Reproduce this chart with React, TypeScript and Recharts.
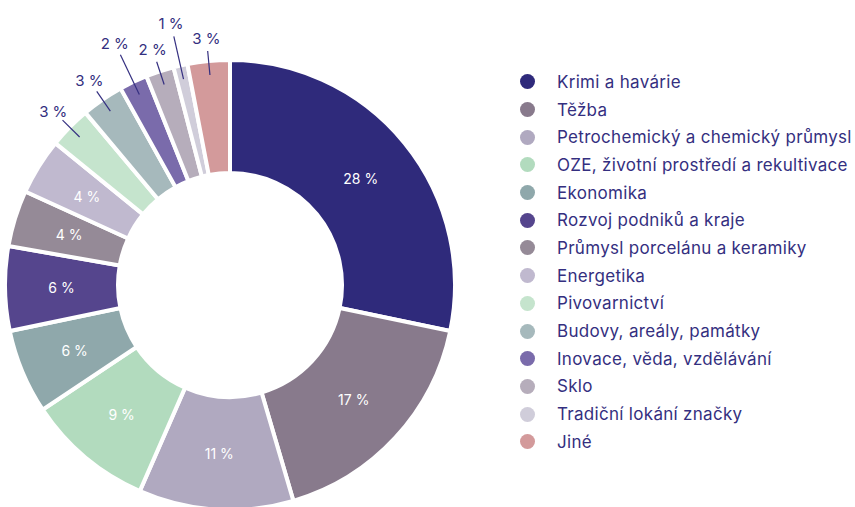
import { PieChart, Pie, Cell, Legend } from "recharts";

const categories = [
  "Krimi a havárie",
  "Těžba",
  "Petrochemický a chemický průmysl",
  "OZE, životní prostředí a rekultivace",
  "Ekonomika",
  "Rozvoj podniků a kraje",
  "Průmysl porcelánu a keramiky",
  "Energetika",
  "Pivovarnictví",
  "Budovy, areály, památky",
  "Inovace, věda, vzdělávání",
  "Sklo",
  "Tradiční lokání značky",
  "Jiné",
];

const shares = [28, 17, 11, 9, 6, 6, 4, 4, 3, 3, 2, 2, 1, 3];

const colors = [
  "#2f2a7b",
  "#887a8c",
  "#b0a9c0",
  "#b2dbbe",
  "#8fa8ab",
  "#55458d",
  "#958a97",
  "#c0b9cf",
  "#c5e4cd",
  "#a6b9bc",
  "#7a6bab",
  "#b6adbb",
  "#d0cdda",
  "#d39a9b",
];

const data = categories.map((name, i) => ({ name, value: shares[i] }));

const TEXT = "#342f80";
const FONT = "Inter, 'Noto Sans', sans-serif";
const RAD = Math.PI / 180;

// the two thinnest wedges between neighbours get a longer leader
const longLeader: Record<number, boolean> = { 10: true, 12: true };

const renderLabel = (props: any) => {
  const { cx, cy, midAngle, innerRadius, outerRadius, value, index } = props;
  const cos = Math.cos(-midAngle * RAD);
  const sin = Math.sin(-midAngle * RAD);
  if (value >= 4) {
    const r = (innerRadius + outerRadius) / 2;
    return (
      <text
        x={cx + r * cos}
        y={cy + r * sin}
        fill="#fff"
        fontSize={14}
        fontFamily={FONT}
        textAnchor="middle"
        dominantBaseline="central"
      >
        {`${value} %`}
      </text>
    );
  }
  const extra = longLeader[index] ? 20 : 0;
  const r1 = outerRadius - 14;
  const r2 = outerRadius + 10 + extra;
  const rt = outerRadius + 23 + extra;
  return (
    <g>
      <line
        x1={cx + r1 * cos}
        y1={cy + r1 * sin}
        x2={cx + r2 * cos}
        y2={cy + r2 * sin}
        stroke={TEXT}
        strokeWidth={1.2}
      />
      <text
        x={cx + rt * cos}
        y={cy + rt * sin}
        fill={TEXT}
        fontSize={15}
        fontFamily={FONT}
        textAnchor="middle"
        dominantBaseline="central"
      >
        {`${value} %`}
      </text>
    </g>
  );
};

// legend keeps the order of the data, not alphabetical
const renderLegend = () => (
  <div style={{ fontFamily: FONT }}>
    {categories.map((name, i) => (
      <div
        key={name}
        style={{ display: "flex", alignItems: "center", height: 27.7 }}
      >
        <span
          style={{
            width: 15,
            height: 15,
            borderRadius: "50%",
            background: colors[i],
            marginRight: 22,
            flexShrink: 0,
          }}
        />
        <span
          style={{
            color: TEXT,
            fontSize: 17,
            letterSpacing: 0.3,
            whiteSpace: "nowrap",
          }}
        >
          {name}
        </span>
      </div>
    ))}
  </div>
);

const App = () => {
  return (
    <div style={{ position: "absolute", left: 0, top: 0, background: "#fff" }}>
      <PieChart
        width={855}
        height={507}
        margin={{ top: 0, right: 0, bottom: 0, left: 0 }}
      >
        <Pie
          data={data}
          dataKey="value"
          nameKey="name"
          cx={230}
          cy={285}
          innerRadius={112}
          outerRadius={225}
          startAngle={90}
          endAngle={-270}
          stroke="#fff"
          strokeWidth={4}
          label={renderLabel}
          labelLine={false}
          isAnimationActive={false}
        >
          {data.map((_, i) => (
            <Cell key={i} fill={colors[i]} />
          ))}
        </Pie>
        <Legend
          layout="vertical"
          align="right"
          verticalAlign="top"
          content={renderLegend}
          wrapperStyle={{ left: 520, top: 68, right: "auto", width: 335 }}
        />
      </PieChart>
    </div>
  );
};

export default App;
